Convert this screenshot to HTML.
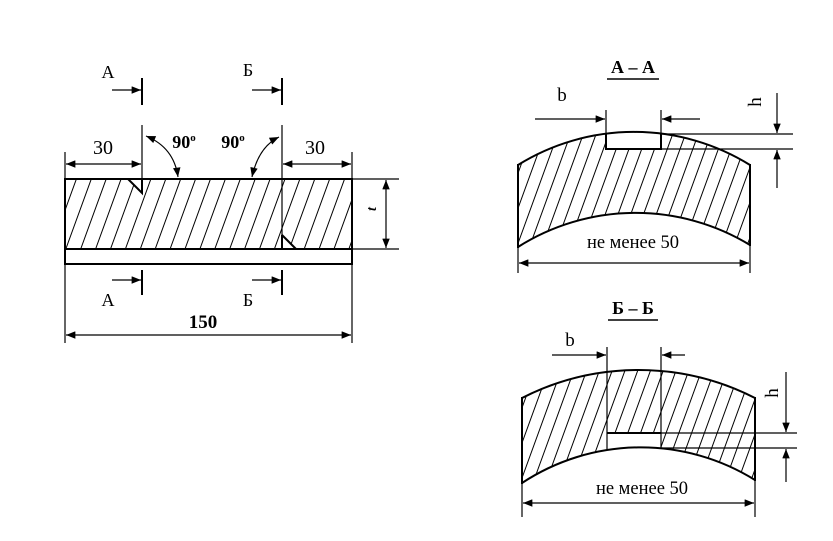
<!DOCTYPE html>
<html><head><meta charset="utf-8"><style>
html,body{margin:0;padding:0;background:#fff;}
svg{display:block;}
text{font-family:"Liberation Serif","Noto Serif CJK SC",serif;fill:#000;}
</style></head><body>
<svg width="833" height="541" viewBox="0 0 833 541" xmlns="http://www.w3.org/2000/svg">
<defs>
<marker id="ar" viewBox="0 0 10 8" refX="10" refY="4" markerWidth="11" markerHeight="7.5" markerUnits="userSpaceOnUse" orient="auto-start-reverse"><path d="M0,0 L10,4 L0,8 z" fill="#000"/></marker>
<pattern id="h1" width="14" height="20" patternUnits="userSpaceOnUse" patternTransform="rotate(20)"><line x1="7" y1="-1" x2="7" y2="21" stroke="#000" stroke-width="1"/></pattern>
<pattern id="h2" width="12" height="20" patternUnits="userSpaceOnUse" patternTransform="rotate(20)"><line x1="6" y1="-1" x2="6" y2="21" stroke="#000" stroke-width="1"/></pattern>
</defs>

<!-- ===== Left view ===== -->
<rect x="65" y="179" width="287" height="70" fill="url(#h1)"/>
<polygon points="128,179 142,179 142,193" fill="#fff"/>
<polygon points="282,235 282,249 296,249" fill="#fff"/>
<rect x="65" y="179" width="287" height="85" fill="none" stroke="#000" stroke-width="2"/>
<line x1="65" y1="249" x2="352" y2="249" stroke="#000" stroke-width="2"/>
<polyline points="128,179 142,193 142,179" fill="none" stroke="#000" stroke-width="2"/>
<line x1="282" y1="125" x2="282" y2="249" stroke="#000" stroke-width="1.2"/>
<polyline points="282,235 282,249" stroke="#000" stroke-width="2"/>
<line x1="282" y1="235" x2="296" y2="249" stroke="#000" stroke-width="2"/>
<line x1="142" y1="125" x2="142" y2="179" stroke="#000" stroke-width="1.2"/>

<!-- section markers -->
<g stroke="#000">
<line x1="142" y1="78" x2="142" y2="105" stroke-width="2"/>
<line x1="282" y1="78" x2="282" y2="105" stroke-width="2"/>
<line x1="142" y1="270" x2="142" y2="295" stroke-width="2"/>
<line x1="282" y1="270" x2="282" y2="295" stroke-width="2"/>
<line x1="112" y1="90" x2="141" y2="90" stroke-width="1.2" marker-end="url(#ar)"/>
<line x1="252" y1="90" x2="281" y2="90" stroke-width="1.2" marker-end="url(#ar)"/>
<line x1="112" y1="280" x2="141" y2="280" stroke-width="1.2" marker-end="url(#ar)"/>
<line x1="252" y1="280" x2="281" y2="280" stroke-width="1.2" marker-end="url(#ar)"/>
</g>
<text x="108" y="78" font-size="18" text-anchor="middle">А</text>
<text x="248" y="76" font-size="18" text-anchor="middle">Б</text>
<text x="108" y="306" font-size="18" text-anchor="middle">А</text>
<text x="248" y="306" font-size="18" text-anchor="middle">Б</text>

<!-- dims 30 -->
<g stroke="#000" stroke-width="1.2" fill="none">
<line x1="65" y1="152" x2="65" y2="343"/>
<line x1="352" y1="152" x2="352" y2="343"/>
<line x1="66" y1="164" x2="141" y2="164" marker-start="url(#ar)" marker-end="url(#ar)"/>
<line x1="283" y1="164" x2="351" y2="164" marker-start="url(#ar)" marker-end="url(#ar)"/>
<line x1="66" y1="335" x2="351" y2="335" marker-start="url(#ar)" marker-end="url(#ar)"/>
<path d="M146,136 Q174,147.5 178,177" marker-start="url(#ar)" marker-end="url(#ar)"/>
<path d="M279,137 Q258.5,147 252,177" marker-start="url(#ar)" marker-end="url(#ar)"/>
<line x1="352" y1="179" x2="399" y2="179"/>
<line x1="352" y1="249" x2="399" y2="249"/>
<line x1="386" y1="180" x2="386" y2="248" marker-start="url(#ar)" marker-end="url(#ar)"/>
</g>
<text x="103" y="154" font-size="20" text-anchor="middle">30</text>
<text x="315" y="154" font-size="20" text-anchor="middle">30</text>
<text x="184" y="148" font-size="18" font-weight="bold" text-anchor="middle">90<tspan font-size="11" dy="-7">o</tspan></text>
<text x="233" y="148" font-size="18" font-weight="bold" text-anchor="middle">90<tspan font-size="11" dy="-7">o</tspan></text>
<text x="203" y="328" font-size="19" font-weight="bold" text-anchor="middle">150</text>
<text x="0" y="0" font-size="14" font-weight="bold" font-style="italic" text-anchor="middle" transform="translate(376,209) rotate(-90)">t</text>

<!-- ===== Section A-A ===== -->
<text x="633" y="73" font-size="18" font-weight="bold" text-anchor="middle">А – А</text>
<line x1="607" y1="79" x2="659" y2="79" stroke="#000" stroke-width="1.5"/>
<path d="M518,165 A220,220 0 0 1 750,165 L750,245 A220,220 0 0 0 518,247 Z" fill="url(#h2)"/>
<polygon points="606,132 661,132 661,149 606,149" fill="#fff"/>
<path d="M518,165 A220,220 0 0 1 750,165 M750,245 A220,220 0 0 0 518,247" fill="none" stroke="#000" stroke-width="2"/>
<line x1="518" y1="164" x2="518" y2="248" stroke="#000" stroke-width="2"/>
<line x1="750" y1="164" x2="750" y2="246" stroke="#000" stroke-width="2"/>
<polyline points="606,133 606,149 661,149 661,133" fill="none" stroke="#000" stroke-width="2"/>
<g stroke="#000" stroke-width="1.2" fill="none">
<line x1="606" y1="110" x2="606" y2="133"/>
<line x1="661" y1="110" x2="661" y2="133"/>
<line x1="535" y1="119" x2="605" y2="119" marker-end="url(#ar)"/>
<line x1="700" y1="119" x2="662" y2="119" marker-end="url(#ar)"/>
<line x1="661" y1="134" x2="793" y2="134"/>
<line x1="661" y1="149" x2="793" y2="149"/>
<line x1="777" y1="93" x2="777" y2="133" marker-end="url(#ar)"/>
<line x1="777" y1="188" x2="777" y2="150" marker-end="url(#ar)"/>
<line x1="518" y1="248" x2="518" y2="273"/>
<line x1="750" y1="246" x2="750" y2="273"/>
<line x1="519" y1="263" x2="749" y2="263" marker-start="url(#ar)" marker-end="url(#ar)"/>
</g>
<text x="562" y="101" font-size="19" text-anchor="middle">b</text>
<text x="0" y="0" font-size="19" text-anchor="middle" transform="translate(761,102) rotate(-90)">h</text>
<text x="633" y="248" font-size="18.5" text-anchor="middle">не менее 50</text>

<!-- ===== Section Б-Б ===== -->
<text x="633" y="314" font-size="18" font-weight="bold" text-anchor="middle">Б – Б</text>
<line x1="608" y1="320" x2="658" y2="320" stroke="#000" stroke-width="1.5"/>
<path d="M522,398 A256,256 0 0 1 755,398 L755,480 A216,216 0 0 0 522,483 Z" fill="url(#h2)"/>
<polygon points="607,433 661,433 661,453 607,453" fill="#fff"/>
<path d="M522,398 A256,256 0 0 1 755,398 M755,480 A216,216 0 0 0 522,483" fill="none" stroke="#000" stroke-width="2"/>
<line x1="522" y1="397" x2="522" y2="484" stroke="#000" stroke-width="2"/>
<line x1="755" y1="397" x2="755" y2="481" stroke="#000" stroke-width="2"/>
<g stroke="#000" stroke-width="1.2" fill="none">
<line x1="607" y1="347" x2="607" y2="450"/>
<line x1="661" y1="347" x2="661" y2="449"/>
<line x1="607" y1="433" x2="661" y2="433" stroke-width="2"/>
<line x1="661" y1="433" x2="797" y2="433"/>
<line x1="661" y1="448" x2="797" y2="448"/>
<line x1="552" y1="355" x2="606" y2="355" marker-end="url(#ar)"/>
<line x1="685" y1="355" x2="662" y2="355" marker-end="url(#ar)"/>
<line x1="786" y1="372" x2="786" y2="432" marker-end="url(#ar)"/>
<line x1="786" y1="482" x2="786" y2="449" marker-end="url(#ar)"/>
<line x1="522" y1="484" x2="522" y2="517"/>
<line x1="755" y1="481" x2="755" y2="517"/>
<line x1="523" y1="503" x2="754" y2="503" marker-start="url(#ar)" marker-end="url(#ar)"/>
</g>
<text x="570" y="346" font-size="19" text-anchor="middle">b</text>
<text x="0" y="0" font-size="19" text-anchor="middle" transform="translate(778,393) rotate(-90)">h</text>
<text x="642" y="494" font-size="18.5" text-anchor="middle">не менее 50</text>
</svg>
</body></html>
